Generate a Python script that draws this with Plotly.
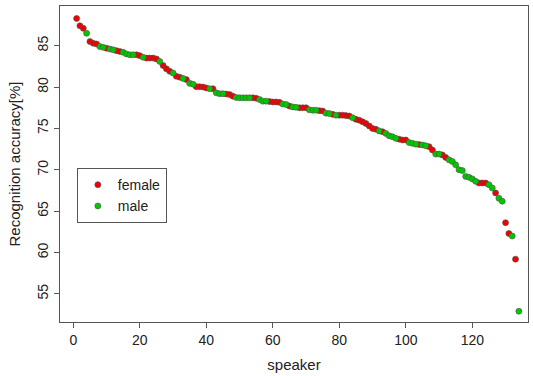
import plotly.graph_objects as go

# Recognition accuracy per speaker (sorted descending)
accuracy = [
    88.3, 87.4, 87.1, 86.5, 85.5, 85.3, 85.2, 84.9, 84.8, 84.7,
    84.6, 84.5, 84.4, 84.3, 84.2, 84.0, 83.9, 83.9, 83.9, 83.8,
    83.6, 83.5, 83.5, 83.5, 83.4, 83.1, 82.6, 82.2, 81.9, 81.7,
    81.3, 81.2, 81.05, 80.9, 80.45, 80.35, 80.05, 80.05, 80.0, 79.9,
    79.8, 79.8, 79.3, 79.2, 79.2, 79.15, 79.1, 78.9, 78.75, 78.7,
    78.7, 78.7, 78.7, 78.7, 78.65, 78.5, 78.3, 78.3, 78.25, 78.2,
    78.2, 78.15, 77.95, 77.9, 77.7, 77.6, 77.55, 77.5, 77.5, 77.5,
    77.25, 77.2, 77.2, 77.15, 77.1, 76.85, 76.8, 76.7, 76.6, 76.6,
    76.6, 76.55, 76.5, 76.3, 76.1, 76.0, 75.8, 75.6, 75.3, 75.0,
    74.9, 74.7, 74.6, 74.4, 74.1, 74.0, 73.8, 73.7, 73.6, 73.6,
    73.3, 73.2, 73.1, 73.05, 73.0, 72.9, 72.8, 72.4, 71.9, 71.9,
    71.8, 71.5, 71.2, 71.0, 70.6, 70.0, 69.9, 69.2, 69.1, 68.9,
    68.6, 68.4, 68.4, 68.4, 68.2, 67.8, 67.2, 66.55, 66.2, 63.6,
    62.3, 62.0, 59.2, 52.9,
]
gender = (
    "FFFMFFFMMF" "MMFFMMMMFF" "MFFFFMFFFM" "FFMFMMFFFF"
    "MFMMMFFFMM" "MMMFFMMMFF" "FFMMFMMFFF" "MMMFFMMFMF"
    "FFFMFFFFFF" "FMFMMMMFFF" "MMMFMMFFMM" "FFMMMMMMMM"
    "MFFFMMFMMF" "FMFM"
)
speaker = list(range(1, len(accuracy) + 1))

x_ticks = [0, 20, 40, 60, 80, 100, 120]
y_ticks = [55, 60, 65, 70, 75, 80, 85]

groups = [("female", "F", "#F00000"), ("male", "M", "#00C800")]

fig = go.Figure()
for name, code, color in groups:
    xs = [s for s, g in zip(speaker, gender) if g == code]
    ys = [a for a, g in zip(accuracy, gender) if g == code]
    fig.add_trace(go.Scatter(
        x=xs, y=ys, mode="markers", name=name,
        marker=dict(color=color, size=6, line=dict(color="#505050", width=0.6)),
    ))

font_family = "Liberation Sans, Arial, sans-serif"
axis_common = dict(
    showline=True, mirror=True, linecolor="#555555", linewidth=1,
    ticks="outside", ticklen=5, tickcolor="#555555", tickwidth=1,
    showgrid=False, zeroline=False, automargin=False,
    tickfont=dict(size=14, color="#222222", family=font_family),
)

fig.update_layout(
    width=533, height=376,
    margin=dict(l=60, r=5, t=6, b=54, autoexpand=False),
    paper_bgcolor="white", plot_bgcolor="white",
    font=dict(family=font_family, color="#222222"),
    xaxis=dict(
        range=[-4.0, 136.75], tickvals=x_ticks,
        title=dict(text="speaker", font=dict(size=15), standoff=12),
        **axis_common,
    ),
    yaxis=dict(
        range=[51.6, 89.8], tickvals=y_ticks, tickangle=-90,
        title=dict(text="Recognition accuracy[%]", font=dict(size=15), standoff=11),
        **axis_common,
    ),
    legend=dict(
        x=0.036, y=0.487, xanchor="left", yanchor="top",
        bgcolor="white", bordercolor="#555555", borderwidth=1,
        font=dict(size=14, color="#222222"), itemwidth=30,
        tracegroupgap=0,
    ),
)

fig.write_html(
    "out.html",
    config={"displayModeBar": False},
    post_script="document.body.style.margin='0';document.body.style.padding='0';",
)
